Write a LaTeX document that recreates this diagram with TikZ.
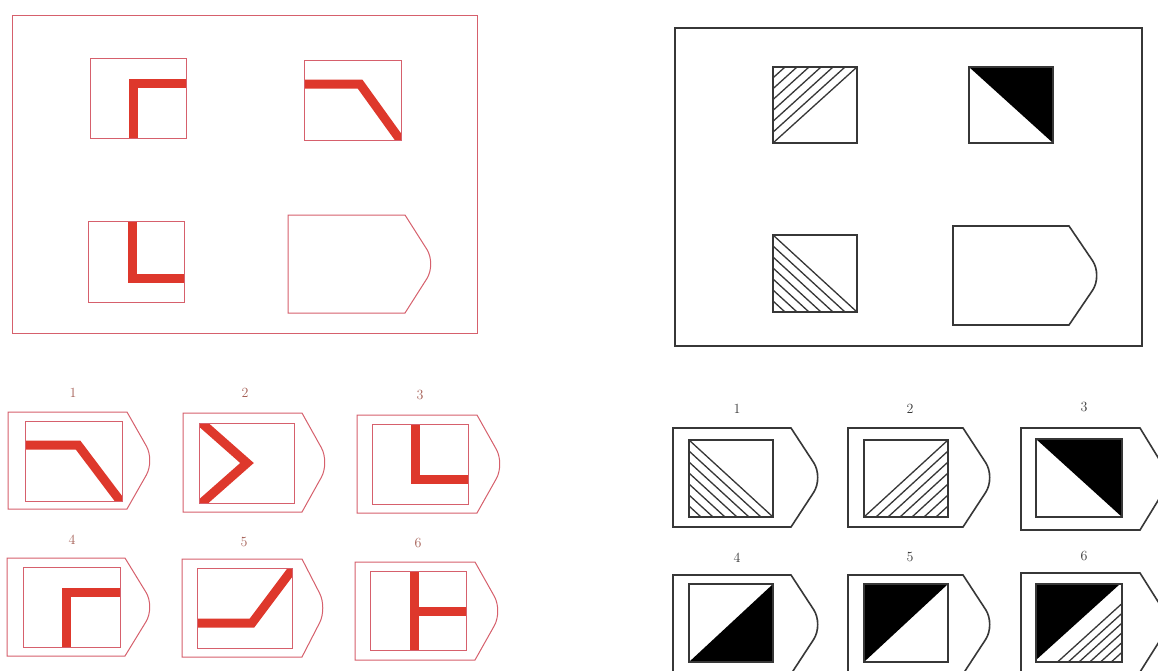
\documentclass[tikz,border=0pt]{standalone}
\usetikzlibrary{calc}
\definecolor{lline}{RGB}{214,96,108}
\definecolor{lbar}{RGB}{222,56,44}
\definecolor{llab}{RGB}{165,95,85}
\definecolor{rline}{RGB}{55,55,55}
\tikzset{
  lthin/.style={draw=lline,line width=1pt},
  redbar/.style={draw=lbar,line width=9pt,line join=miter,line cap=butt},
  rthin/.style={draw=rline,line width=1.6pt},
  hl/.style={draw=rline,line width=1.3pt},
  lab/.style={font=\fontsize{14}{16}\selectfont,inner sep=0pt},
}
% style, x0, xflat, xtip, ytop, ybottom
\newcommand\pentag[6]{%
  \draw[#1] (#2,#5) -- (#3,#5)
    -- ({#3+0.84*(#4-#3)},{#5+0.35*(#6-#5)})
    .. controls ({#3+1.038*(#4-#3)},{#5+0.4325*(#6-#5)}) and ({#3+1.038*(#4-#3)},{#6-0.4325*(#6-#5)}) .. ({#3+0.84*(#4-#3)},{#6-0.35*(#6-#5)})
    -- (#3,#6) -- (#2,#6) -- cycle;}
\newcommand\redbox[5]{%
  \begin{scope}\clip (#1,#2) rectangle (#3,#4); \draw[redbar] #5; \end{scope}
  \draw[lthin] (#1,#2) rectangle (#3,#4);}
% lower-left hatched, diagonal top-left to bottom-right
\newcommand\hatchLL[4]{%
  \foreach \k in {1,...,6} {\draw[hl] (#1,{#2+\k/7*(#4-#2)}) -- ({#1+(1-\k/7)*(#3-#1)},#4);}
  \draw[hl] (#1,#2) -- (#3,#4);
  \draw[rthin] (#1,#2) rectangle (#3,#4);}
% upper-left hatched, diagonal bottom-left to top-right
\newcommand\hatchUL[4]{%
  \foreach \k in {1,...,6} {\draw[hl] (#1,{#4-\k/7*(#4-#2)}) -- ({#1+(1-\k/7)*(#3-#1)},#2);}
  \draw[hl] (#1,#4) -- (#3,#2);
  \draw[rthin] (#1,#2) rectangle (#3,#4);}
% lower-right hatched, diagonal bottom-left to top-right
\newcommand\hatchLR[4]{%
  \foreach \k in {1,...,6} {\draw[hl] (#3,{#2+\k/7*(#4-#2)}) -- ({#1+\k/7*(#3-#1)},#4);}
  \draw[hl] (#1,#4) -- (#3,#2);
  \draw[rthin] (#1,#2) rectangle (#3,#4);}
\begin{document}
\begin{tikzpicture}[x=1pt,y=-1pt]
\useasboundingbox (0,0) rectangle (1158,670);
\clip (0,0) rectangle (1158,670);
\fill[white] (0,0) rectangle (1158,670);

% ================= LEFT PANEL =================
\draw[lthin] (12,15) rectangle (477,333);
\redbox{90}{58}{186}{138}{(133,138) -- (133,83) -- (190,83)}
\redbox{304}{60}{401}{140}{(300,84) -- (360,84) -- (401,141)}
\redbox{88}{221}{184}{302}{(132,217) -- (132,278) -- (188,278)}
\pentag{lthin}{288}{405}{431}{215}{313}

% left options
\node[lab,text=llab] (la1) at (73,393) {1};
\node[lab,text=llab] (la2) at (245,393) {2};
\node[lab,text=llab] (la3) at (420,395) {3};
\node[lab,text=llab] (la4) at (72,540) {4};
\node[lab,text=llab] (la5) at (244,542) {5};
\node[lab,text=llab] (la6) at (418,543) {6};

\pentag{lthin}{8}{127}{150}{412}{509}
\redbox{25}{421}{122}{501}{(21,445) -- (78,445) -- (124,506)}
\pentag{lthin}{183}{302}{325}{413}{512}
\redbox{199}{423}{294}{503}{(196,418) -- (247,463) -- (196,508)}
\pentag{lthin}{357}{477}{500}{415}{513}
\redbox{372}{424}{468}{504}{(415,420) -- (415,479) -- (472,479)}

\pentag{lthin}{7}{125}{150}{558}{656}
\redbox{23}{567}{120}{647}{(66,651) -- (66,592) -- (124,592)}
\pentag{lthin}{182}{302}{323}{559}{657}
\redbox{197}{568}{292}{648}{(193,623) -- (252,623) -- (297,563)}
\pentag{lthin}{355}{475}{498}{562}{660}
\redbox{370}{571}{466}{650}{(414,567) -- (414,654) (414,611) -- (470,611)}

% ================= RIGHT PANEL =================
\draw[rthin] (675,28) rectangle (1142,346);
\hatchUL{773}{67}{857}{143}
\fill[black] (969,67) -- (1053,67) -- (1053,143) -- cycle;
\draw[rthin] (969,67) rectangle (1053,143);
\hatchLL{773}{235}{857}{312}
\pentag{rthin}{953}{1069}{1097}{226}{325}

% right options
\node[lab,text=rline] (ra1) at (737,409) {1};
\node[lab,text=rline] (ra2) at (910,409) {2};
\node[lab,text=rline] (ra3) at (1084,407) {3};
\node[lab,text=rline] (ra4) at (737,558) {4};
\node[lab,text=rline] (ra5) at (910,557) {5};
\node[lab,text=rline] (ra6) at (1084,556) {6};

\pentag{rthin}{673}{791}{818}{428}{527}
\hatchLL{689}{440}{773}{517}
\pentag{rthin}{848}{963}{990}{428}{527}
\hatchLR{864}{440}{948}{517}
\pentag{rthin}{1021}{1140}{1166}{428}{530}
\fill[black] (1036,439) -- (1122,439) -- (1122,517) -- cycle;
\draw[rthin] (1036,439) rectangle (1122,517);

\pentag{rthin}{673}{791}{818}{575}{674}
\fill[black] (689,662) -- (773,584) -- (773,662) -- cycle;
\draw[rthin] (689,584) rectangle (773,662);
\pentag{rthin}{848}{963}{990}{575}{674}
\fill[black] (864,584) -- (948,584) -- (864,662) -- cycle;
\draw[rthin] (864,584) rectangle (948,662);
\pentag{rthin}{1021}{1140}{1166}{573}{672}
\fill[black] (1036,584) -- (1120,584) -- (1036,660) -- cycle;
\foreach \k in {2,...,7} {\draw[hl] (1122,{584+\k/8*78}) -- ({1036+\k/8*86},662);}
\draw[rthin] (1036,584) rectangle (1122,662);
\end{tikzpicture}
\end{document}
